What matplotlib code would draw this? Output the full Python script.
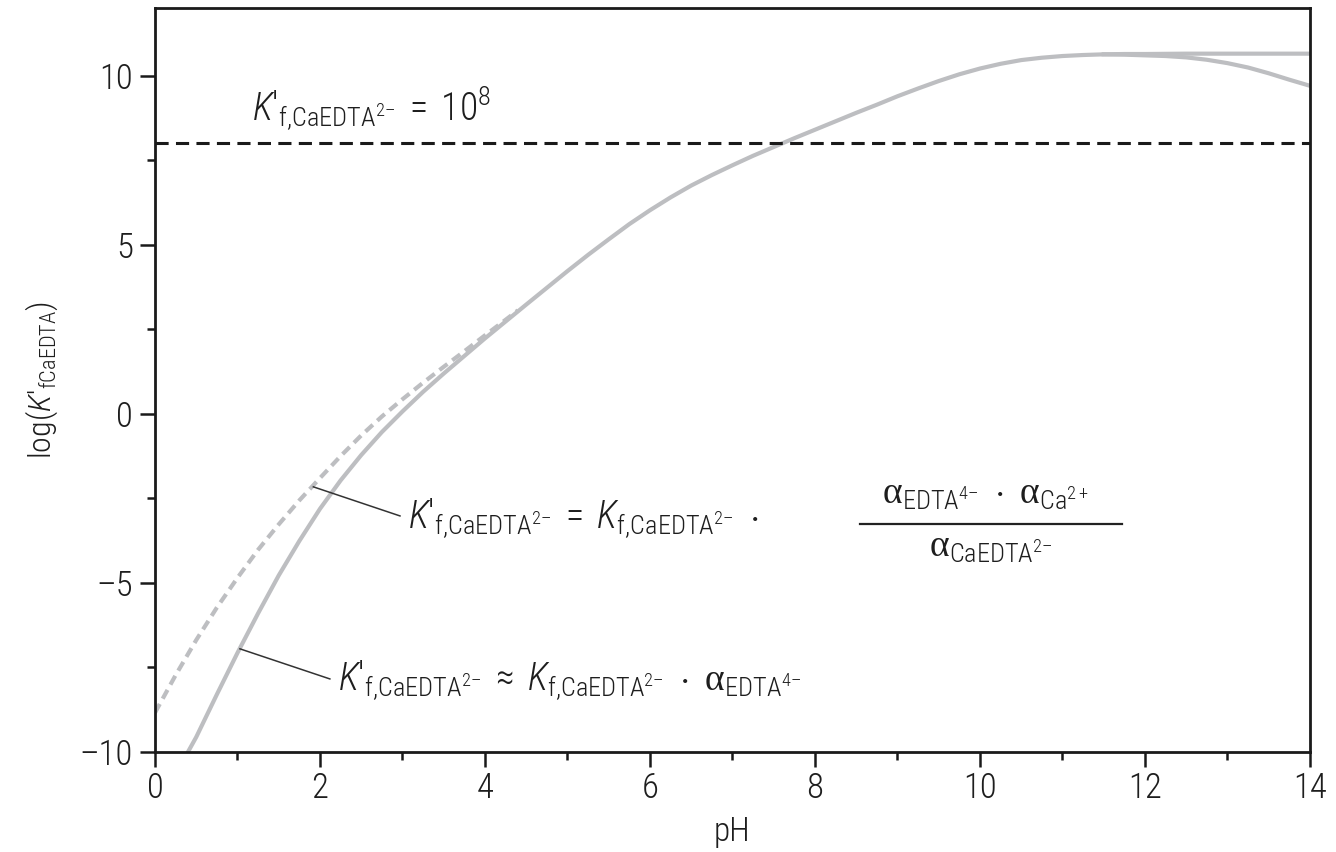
import numpy as np
import matplotlib
matplotlib.use("Agg")
import matplotlib.pyplot as plt
from matplotlib.ticker import MultipleLocator, FuncFormatter
from matplotlib import font_manager as fm

# pick a condensed sans if one is around
names = {(f.name, f.stretch) for f in fm.fontManager.ttflist}
fams = {n for n, s in names}
if 'Roboto Condensed' in fams:
    narrow, stretch = 'Roboto Condensed', 'normal'
elif 'Liberation Sans Narrow' in fams:
    narrow, stretch = 'Liberation Sans Narrow', 'normal'
elif ('DejaVu Sans', 'condensed') in names:
    narrow, stretch = 'DejaVu Sans', 'condensed'
else:
    narrow, stretch = 'Roboto', 'normal'

plt.rcParams['font.family'] = [narrow, 'DejaVu Sans']
plt.rcParams['font.stretch'] = stretch
plt.rcParams['font.weight'] = 'light'
plt.rcParams['axes.labelweight'] = 'light'
plt.rcParams['mathtext.fontset'] = 'custom'
sfx = ':condensed' if stretch == 'condensed' else ''
plt.rcParams['mathtext.rm'] = narrow + ':light' + sfx
plt.rcParams['mathtext.it'] = narrow + ':italic:light' + sfx
plt.rcParams['mathtext.bf'] = narrow + ':bold' + sfx
plt.rcParams['mathtext.sf'] = 'Liberation Serif'   # for the alphas

# values
# approximate form  K'f = Kf * alpha(EDTA4-)
ph_approx = [0.4, 0.5, 0.75, 1.0, 1.25, 1.5, 1.75, 2.0, 2.25, 2.5, 2.75, 3.0, 3.25,
             3.5, 3.75, 4.0, 4.25, 4.5, 5.0, 5.25, 5.5, 5.75, 6.0, 6.25, 6.5, 6.75,
             7.0, 7.25, 7.5, 7.75, 8.0, 8.25, 8.5, 8.75, 9.0, 9.25, 9.5, 9.75,
             10.0, 10.25, 10.5, 10.75, 11.0, 11.25, 11.5, 11.75, 12.0, 12.5, 13.0, 14.0]
logk_approx = [-10.0, -9.56, -8.30, -7.07, -5.90, -4.78, -3.76, -2.81, -1.97, -1.22,
               -0.54, 0.07, 0.65, 1.19, 1.71, 2.23, 2.73, 3.23, 4.22, 4.70, 5.16,
               5.61, 6.02, 6.40, 6.75, 7.06, 7.35, 7.63, 7.89, 8.15, 8.40, 8.65,
               8.90, 9.14, 9.39, 9.62, 9.84, 10.04, 10.21, 10.35, 10.46, 10.53,
               10.58, 10.61, 10.63, 10.64, 10.64, 10.65, 10.65, 10.65]

# full form, low pH part (dashed)
ph_full_lo = [0.0, 0.25, 0.5, 0.75, 1.0, 1.25, 1.5, 1.75, 2.0, 2.25, 2.5, 2.75,
              3.0, 3.25, 3.5, 3.75, 4.0, 4.25, 4.4]
logk_full_lo = [-8.84, -7.73, -6.69, -5.73, -4.85, -4.02, -3.27, -2.56, -1.90,
                -1.25, -0.64, -0.08, 0.43, 0.92, 1.39, 1.85, 2.32, 2.78, 3.06]

# full form, high pH part (bends down)
ph_full_hi = [11.5, 11.75, 12.0, 12.25, 12.5, 12.75, 13.0, 13.25, 13.5, 13.75, 14.0]
logk_full_hi = [10.63, 10.62, 10.60, 10.58, 10.54, 10.47, 10.37, 10.24, 10.07,
                9.88, 9.70]

k_limit = 8  # K'f = 10^8

grey = '#bdbec1'
tc = '#1e1e1e'
DASH = '\u2013'
PRIME = '\u2032'
KP = "K" + PRIME + r"_{\mathrm{f{,}CaEDTA}^{2" + DASH + "}}"
KF = r"K_{\mathrm{f{,}CaEDTA}^{2" + DASH + "}}"
AL = r"\mathsf{\alpha}"

fig = plt.figure(figsize=(13.36, 8.52), dpi=100)
ax = fig.add_axes([0.116, 0.1174, 0.8645, 0.8732])

ax.plot(ph_approx, logk_approx, '-', color=grey, lw=3.0)
ax.plot(ph_full_lo, logk_full_lo, color=grey, lw=3.0, dashes=(2.4, 1.45))
ax.plot(ph_full_hi, logk_full_hi, '-', color=grey, lw=3.0)
ax.axhline(k_limit, color='#1a1a1a', lw=2.2, dashes=(4.3, 2.4))

ax.set_xlim(0, 14)
ax.set_ylim(-10, 12)
ax.xaxis.set_major_locator(MultipleLocator(2))
ax.xaxis.set_minor_locator(MultipleLocator(1))
ax.yaxis.set_major_locator(MultipleLocator(5))
ax.yaxis.set_minor_locator(MultipleLocator(2.5))
ax.yaxis.set_major_formatter(FuncFormatter(lambda v, p: f"{v:g}".replace('-', DASH)))
ax.tick_params(which='both', direction='out', width=1.8, color='#1a1a1a',
               labelsize=25, labelcolor=tc)
ax.tick_params(which='major', length=11)
ax.tick_params(which='minor', length=6)
ax.tick_params(axis='x', pad=3)
ax.tick_params(axis='y', pad=5)
for sp in ax.spines.values():
    sp.set_linewidth(2.0)
    sp.set_color('#1a1a1a')

ax.set_xlabel('pH', fontsize=24, color=tc, labelpad=8)
ax.set_ylabel("log($K" + PRIME + r"_{\mathrm{fCaEDTA}}$)", fontsize=23, color=tc, labelpad=14)

ax.text(1.18, 8.67, "$" + KP + r"\;=\;10^8$", fontsize=27,
        color=tc, va='baseline', ha='left')

ax.text(3.07, -3.40, "$" + KP + r"\;=\;" + KF + r"\ \cdot$",
        fontsize=27, color=tc, va='baseline', ha='left')
ax.plot([1.92, 2.97], [-2.16, -3.02], color='#333333', lw=1.1)

ax.text(2.22, -8.20,
        "$" + KP + r"\;\approx\;" + KF + r"\ \cdot\ " + AL + r"_{\mathrm{EDTA}^{4" + DASH + "}}$",
        fontsize=27, color=tc, va='baseline', ha='left')
ax.plot([1.03, 2.12], [-6.95, -7.84], color='#333333', lw=1.1)

# fraction
ax.text(10.07, -2.66,
        "$" + AL + r"_{\mathrm{EDTA}^{4" + DASH + r"}}\ \cdot\ " + AL + r"_{\mathrm{Ca}^{2+}}$",
        fontsize=27, color=tc, va='baseline', ha='center')
ax.plot([8.55, 11.72], [-3.25, -3.25], color='#222222', lw=1.6)
ax.text(10.13, -4.23, "$" + AL + r"_{\mathrm{CaEDTA}^{2" + DASH + "}}$",
        fontsize=27, color=tc, va='baseline', ha='center')

fig.savefig('out.png', dpi=100)
